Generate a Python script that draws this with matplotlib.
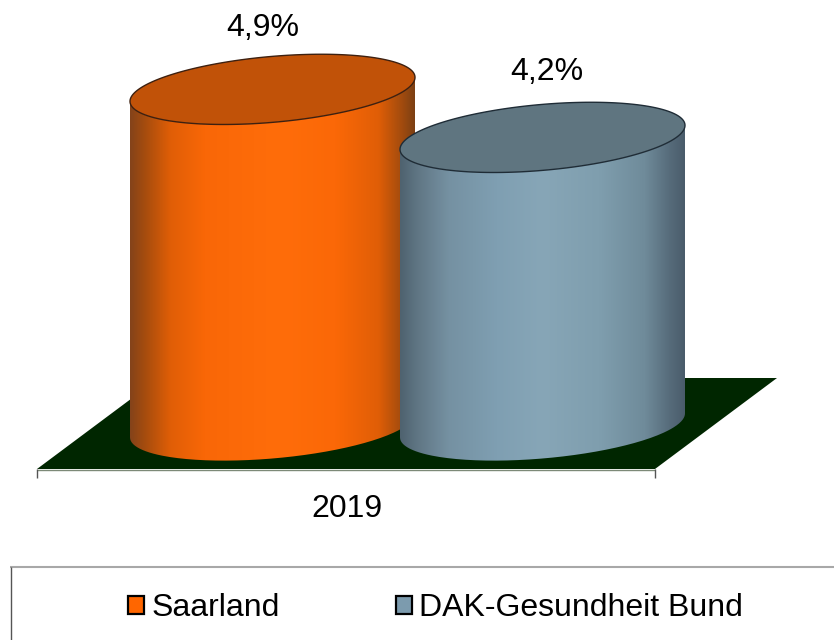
import numpy as np
import matplotlib
matplotlib.use("Agg")
import matplotlib.pyplot as plt
from matplotlib.path import Path
from matplotlib.patches import PathPatch, Patch, Polygon
from matplotlib.colors import LinearSegmentedColormap
from matplotlib.transforms import Affine2D

plt.rcParams['font.family'] = ['Liberation Sans', 'DejaVu Sans']

# ---- data
series = ['Saarland', 'DAK-Gesundheit Bund']
values = [4.9, 4.2]
year_labels = ['2019']

# ---- styles
W, H = 834, 640
BASE_PX = 425.5      # pixel row of value 0
PX_PER_VALUE = 68.6  # pixels per percentage point
PX_PER_SLOT = 270.0
FIRST_CENTER_PX = 272.5
BAR_WIDTH = 285.0 / PX_PER_SLOT
FONT = 23

side_stops = [
    [(0.00, '#84431a'), (0.05, '#a54c0e'), (0.14, '#e05e06'), (0.26, '#f96707'),
     (0.52, '#ff6d0a'), (0.72, '#fb6807'), (0.87, '#e05e06'), (0.95, '#a44c0e'), (1.00, '#7a3f14')],
    [(0.00, '#4f626f'), (0.06, '#607684'), (0.17, '#7591a2'), (0.34, '#7f9fb2'),
     (0.50, '#87a6b7'), (0.70, '#7f9eae'), (0.86, '#6f8b9a'), (0.95, '#566b7a'), (1.00, '#4a5c6b')],
]
top_colors = ['#c15208', '#5f7580']
edge_colors = ['#3d2010', '#1f2c36']
legend_colors = ['#ff6600', '#7c9bae']
label_offsets = [(-9.5, 61.0), (4.5, 65.0)]  # pixels from the top centre of each cylinder

fig = plt.figure(figsize=(W / 100, H / 100), dpi=100, facecolor='white')
ax = fig.add_axes([0, 0, 1, 1])
ax.set_xlim(-FIRST_CENTER_PX / PX_PER_SLOT, (W - FIRST_CENTER_PX) / PX_PER_SLOT)
ax.set_ylim(-(H - BASE_PX) / PX_PER_VALUE, BASE_PX / PX_PER_VALUE)
ax.axis('off')

# pixel coordinates with the origin at the top left, for the floor and the frame
px = Affine2D().scale(1, -1).translate(0, H)

# ---- floor of the 3D scene
ax.add_patch(Polygon([(37, 469), (655, 469), (777, 378), (159, 378)], closed=True,
                     facecolor='#002600', edgecolor='none', transform=px, zorder=1))
ax.plot([37, 655], [469.5, 469.5], color='#7d8a78', lw=1, transform=px, zorder=1.5,
        solid_capstyle='butt')
for xp in (37, 655):
    ax.plot([xp, xp], [469, 478], color='#555555', lw=1, transform=px, zorder=1.5,
            solid_capstyle='butt')

# ---- cylinders
half_w = BAR_WIDTH / 2
tilt = 12.0 / PX_PER_VALUE     # rise of the ellipse from its left to its right end
depth = 33.0 / PX_PER_VALUE    # half height of the ellipse


def ring(cx, cy, t):
    return np.column_stack([cx + half_w * np.cos(t), cy + depth * np.sin(t) + tilt * np.cos(t)])


for i, (name, val) in enumerate(zip(series, values)):
    z = 2 + i
    t_low = np.linspace(np.pi, 2 * np.pi, 120)   # front part of the bottom ellipse
    low = ring(i, 0, t_low)
    t_front = np.linspace(0, -np.pi, 120)        # front part of the top ellipse
    top_front = ring(i, val, t_front)
    outline = np.vstack([low, top_front, low[:1]])
    body = Path(outline, closed=False)
    cmap = LinearSegmentedColormap.from_list(f'side{i}', side_stops[i], N=256)
    im = ax.imshow(np.linspace(0, 1, 256)[None, :], cmap=cmap, aspect='auto',
                   extent=(i - half_w, i + half_w, -1, val + 1), zorder=z, interpolation='bilinear')
    clip = PathPatch(body, transform=ax.transData, facecolor='none', edgecolor='none')
    ax.add_patch(clip)
    im.set_clip_path(clip)
    ellipse = ring(i, val, np.linspace(0, 2 * np.pi, 240))
    ax.add_patch(Polygon(ellipse, closed=True, facecolor=top_colors[i], edgecolor=edge_colors[i],
                         lw=1.0, zorder=z + 0.1))
    ox, oy = label_offsets[i]
    ax.annotate(f'{val:.1f}%'.replace('.', ','), xy=(i, val), xytext=(ox * 0.72, oy * 0.72),
                textcoords='offset points', ha='center', va='center', fontsize=FONT,
                color='black', zorder=6)

ax.set_xlim(-FIRST_CENTER_PX / PX_PER_SLOT, (W - FIRST_CENTER_PX) / PX_PER_SLOT)
ax.set_ylim(-(H - BASE_PX) / PX_PER_VALUE, BASE_PX / PX_PER_VALUE)

# ---- category label
ax.text(346.5, 509, year_labels[0], transform=px, ha='center', va='center', fontsize=FONT, color='black')

# ---- legend and its frame
ax.plot([10, 834], [566.5, 566.5], color='#a8a8a8', lw=1.5, transform=px, zorder=1,
        solid_capstyle='butt')
ax.plot([10.5, 10.5], [567, 640], color='#555555', lw=1, transform=px, zorder=1,
        solid_capstyle='butt')
handles = [Patch(facecolor=c, edgecolor='black', lw=1.6, label=n) for c, n in zip(legend_colors, series)]
fig.legend(handles=handles, ncols=2, frameon=False, fontsize=FONT, loc='center',
           bbox_to_anchor=(435.5 / W, 1 - 608 / H), handlelength=0.5, handleheight=0.5,
           handletextpad=0.23, columnspacing=3.65, borderpad=0, borderaxespad=0)

fig.savefig('out.png', dpi=100, facecolor='white')
